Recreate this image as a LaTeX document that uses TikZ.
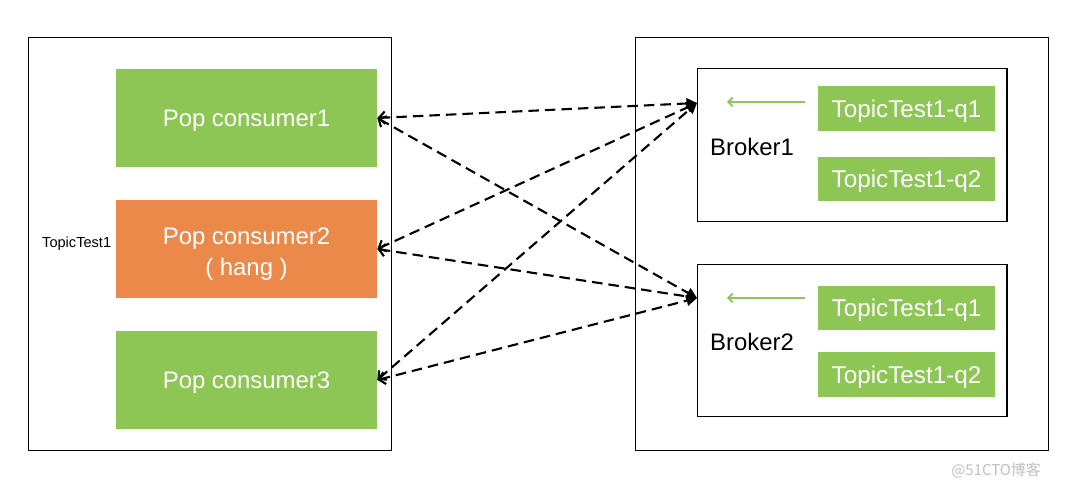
\documentclass[tikz,border=0pt]{standalone}
\usepackage{fontspec}
\setmainfont{Liberation Sans}
\newfontfamily\cjkfont{Noto Sans CJK SC}
\usetikzlibrary{arrows.meta}
\usetikzlibrary{positioning}

\definecolor{popgreen}{RGB}{141,198,84}
\definecolor{poporange}{RGB}{234,137,74}

\begin{document}
\begin{tikzpicture}[x=0.02cm,y=-0.02cm,
  consumer/.style={fill=popgreen,text=white,inner sep=0pt,align=center,
    minimum width=5.22cm,minimum height=1.96cm,text depth=0pt,
    font=\fontsize{13.6}{16.4}\selectfont},
  queuebox/.style={fill=popgreen,text=white,inner sep=0pt,text depth=0pt,
    minimum width=3.54cm,minimum height=0.9cm,
    font=\fontsize{13.8}{16}\selectfont},
  brokerbox/.style={draw,line width=0.6pt,minimum width=6.2cm,minimum height=3.05cm},
  hostbox/.style={draw,line width=0.6pt,minimum width=7.28cm,minimum height=8.28cm},
  link/.style={line width=1.2pt,dash pattern=on 6pt off 3.4pt,
    {Straight Barb[length=3.5pt,width=7pt]}-{Triangle[length=6pt,width=6pt]}},
  feed/.style={popgreen,line width=1.1pt,-{Straight Barb[length=2.5pt,width=5pt]}}
]
\useasboundingbox (0,0) rectangle (1080,489);

% client side
\node[hostbox] (clients) at (210,244) {};
\node[consumer] (c1) at (246.5,118) {Pop consumer1};
\node[consumer,fill=poporange] (c2) at (246.5,249) {\raisebox{-3pt}{\shortstack{Pop consumer2\\[2pt]( hang )}}};
\node[consumer] (c3) at (246.5,380) {Pop consumer3};
\node[font=\fontsize{8.3}{10}\selectfont,anchor=west] (topic) at (36,244) {TopicTest1};

% broker side
\node[hostbox,minimum width=8.28cm] (servers) at (842,244) {};
\node[brokerbox] (b1) at (852,145) {};
\node[brokerbox] (b2) at (852,340.5) {};

\node[queuebox] (b1q1) at (906.5,108.5) {TopicTest1-q1};
\node[queuebox] (b1q2) at (906.5,179) {TopicTest1-q2};
\node[queuebox] (b2q1) at (906.5,308) {TopicTest1-q1};
\node[queuebox] (b2q2) at (906.5,374.5) {TopicTest1-q2};

\node[font=\fontsize{13.6}{16}\selectfont,anchor=west] (b1name) at (704,147) {Broker1};
\node[font=\fontsize{13.6}{16}\selectfont,anchor=west] (b2name) at (704,342) {Broker2};

\coordinate (b1port) at (697,103);
\coordinate (b2port) at (697,298);
\coordinate (b1from) at (805,102);
\coordinate (b1to) at (727,102);
\coordinate (b2from) at (805,298);
\coordinate (b2to) at (727,298);

\draw[feed] (b1from) -- (b1to);
\draw[feed] (b2from) -- (b2to);

% consumers pull from every broker
\foreach \c in {c1,c2,c3}
  \foreach \b in {b1port,b2port}
    \draw[link] (\c.east) -- (\b);

\node[text=black!25,font=\cjkfont\fontsize{8.5}{10}\selectfont,anchor=east] (mark) at (1047,470) {@51CTO博客};
\end{tikzpicture}
\end{document}
